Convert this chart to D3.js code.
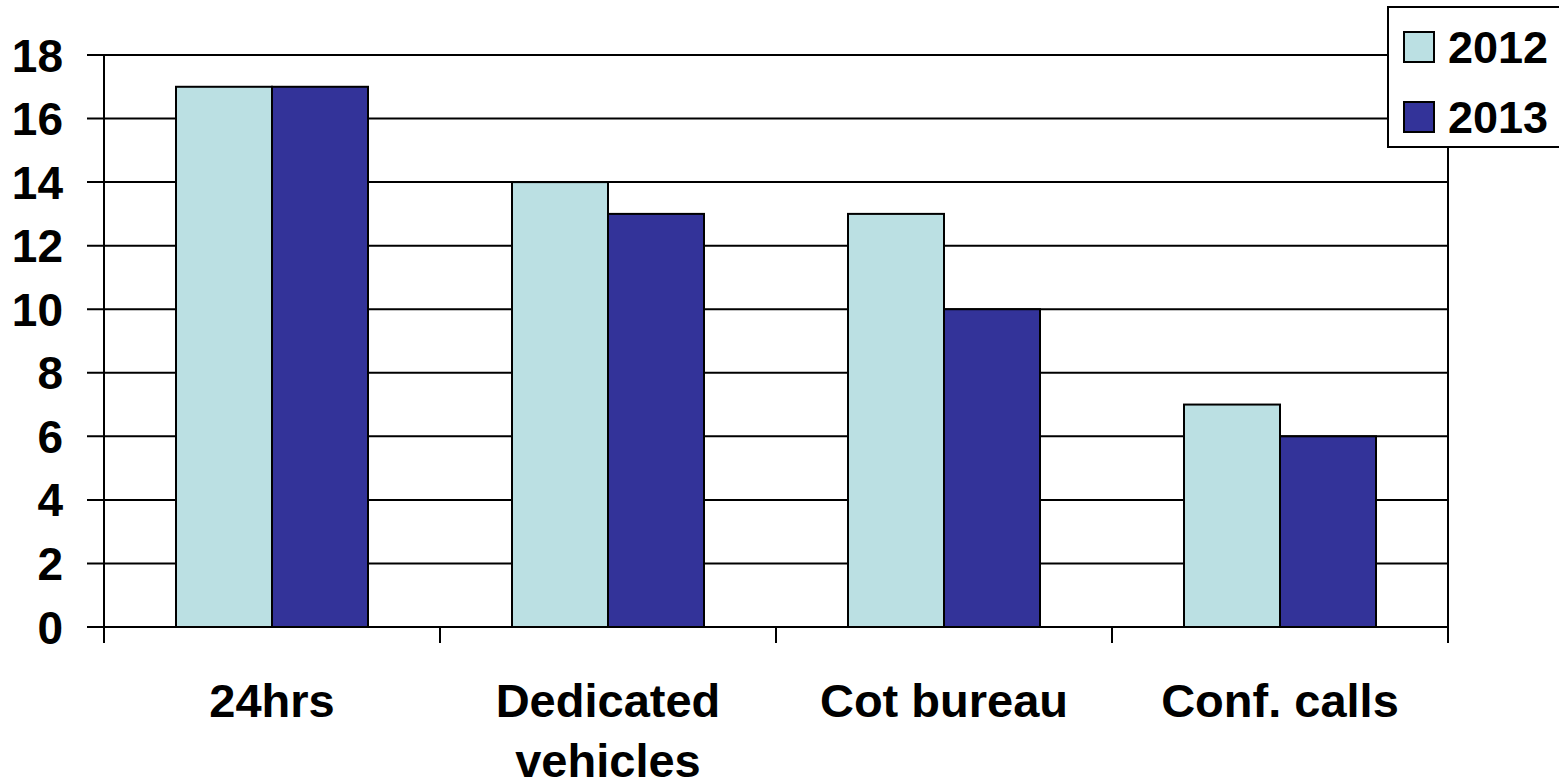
<!DOCTYPE html>
<html>
<head>
<meta charset="utf-8">
<script src="https://cdn.jsdelivr.net/npm/d3@7"></script>
<style>
  html, body { margin: 0; padding: 0; background: #fff; }
  svg { display: block; }
  text { font-family: "Liberation Sans", Arial, sans-serif; font-weight: bold; fill: #000; }
</style>
</head>
<body>
<svg id="chart" width="1559" height="784"></svg>
<script>
const categories = [["24hrs"], ["Dedicated", "vehicles"], ["Cot bureau"], ["Conf. calls"]];
const categoryKeys = ["24hrs", "Dedicated vehicles", "Cot bureau", "Conf. calls"];
const seriesNames = ["2012", "2013"];
const values2012 = [17, 14, 13, 7];
const values2013 = [17, 13, 10, 6];
const yTicks = [0, 2, 4, 6, 8, 10, 12, 14, 16, 18];
const colors = ["#BBE0E3", "#333399"];

const svg = d3.select("#chart");
const plotLeft = 104, plotRight = 1448, plotTop = 55, plotBottom = 627;

const x0 = d3.scaleBand().domain(categoryKeys).range([plotLeft, plotRight]).paddingInner(0).paddingOuter(0);
const x1 = d3.scaleBand().domain(seriesNames).range([0, x0.bandwidth()]).paddingInner(0).paddingOuter(0.75);
const y = d3.scaleLinear().domain([0, 18]).range([plotBottom, plotTop]);

const seriesValues = { "2012": values2012, "2013": values2013 };

// gridlines
svg.append("g").selectAll("line").data(yTicks).join("line")
  .attr("x1", plotLeft - 17).attr("x2", plotRight)
  .attr("y1", d => y(d)).attr("y2", d => y(d))
  .attr("stroke", "#000").attr("stroke-width", 2);

// y labels
svg.append("g").selectAll("text").data(yTicks).join("text")
  .attr("x", 63).attr("y", d => y(d))
  .attr("dy", "0.36em")
  .attr("text-anchor", "end")
  .attr("font-size", 46)
  .text(d => d);

// bars
const groups = svg.append("g").selectAll("g").data(categoryKeys).join("g")
  .attr("transform", d => `translate(${x0(d)},0)`);
groups.selectAll("rect").data((d, i) => seriesNames.map((s, j) => ({ s, j, v: seriesValues[s][i] }))).join("rect")
  .attr("x", d => x1(d.s))
  .attr("width", x1.bandwidth())
  .attr("y", d => y(d.v))
  .attr("height", d => y(0) - y(d.v))
  .attr("fill", d => colors[d.j])
  .attr("stroke", "#000").attr("stroke-width", 2);

// left axis and right border
svg.append("line").attr("x1", plotLeft).attr("x2", plotLeft).attr("y1", plotTop).attr("y2", plotBottom + 16)
  .attr("stroke", "#000").attr("stroke-width", 2);
svg.append("line").attr("x1", plotRight).attr("x2", plotRight).attr("y1", plotTop).attr("y2", plotBottom + 16)
  .attr("stroke", "#000").attr("stroke-width", 2);

// category tick marks
const bounds = categoryKeys.map(c => x0(c)).concat([plotRight]);
svg.append("g").selectAll("line").data(bounds).join("line")
  .attr("x1", d => d).attr("x2", d => d)
  .attr("y1", plotBottom).attr("y2", plotBottom + 16)
  .attr("stroke", "#000").attr("stroke-width", 2);

// category labels
const lab = svg.append("g").selectAll("text").data(categories).join("text")
  .attr("x", (d, i) => x0(categoryKeys[i]) + x0.bandwidth() / 2)
  .attr("y", 717)
  .attr("text-anchor", "middle")
  .attr("font-size", 47);
lab.selectAll("tspan").data(d => d).join("tspan")
  .attr("x", function () { return d3.select(this.parentNode).attr("x"); })
  .attr("dy", (d, i) => i === 0 ? 0 : 60)
  .text(d => d);

// legend
const lg = svg.append("g");
lg.append("rect").attr("x", 1388).attr("y", 7).attr("width", 200).attr("height", 140)
  .attr("fill", "#fff").attr("stroke", "#000").attr("stroke-width", 2);
const items = lg.selectAll("g.item").data(seriesNames).join("g").attr("class", "item")
  .attr("transform", (d, i) => `translate(0, ${i * 70})`);
items.append("rect").attr("x", 1404).attr("y", 32).attr("width", 30).attr("height", 30)
  .attr("fill", (d, i) => colors[i]).attr("stroke", "#000").attr("stroke-width", 2);
items.append("text").attr("x", 1448).attr("y", 63).attr("font-size", 45).text(d => d);
</script>
</body>
</html>
